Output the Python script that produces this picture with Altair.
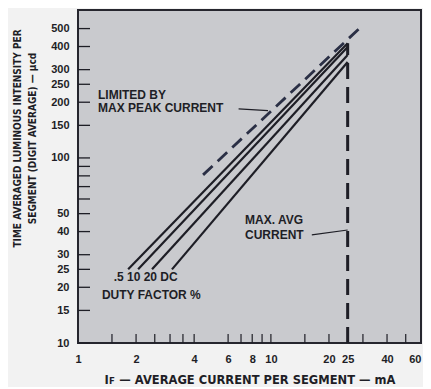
import altair as alt
import pandas as pd

# ---- data ----
duty = ["5", "10", "20", "DC"]
x_start = [1.82, 2.05, 2.42, 3.07]
y_start = [25, 25, 25, 25]
x_end = [25, 25, 25, 25]
y_end = [417, 398, 360, 330]

peak_x = [4.45, 29.0]
peak_y = [81, 505]

avg_x = [25, 25]
avg_y = [10, 417]

y_labels = [10, 15, 20, 25, 30, 40, 50, 100, 150, 200, 250, 300, 400, 500]
y_minor = [60, 70, 80, 90]
x_labels = [1, 2, 4, 6, 8, 10, 20, 25, 40, 60]
x_minor = [1.5, 2, 2.5, 3, 3.5, 4, 6, 7, 8, 9, 10, 15, 20, 25, 30, 40, 50]

notes_text = ["LIMITED BY", "MAX PEAK CURRENT", "MAX. AVG", "CURRENT",
              ".5 10 20 DC", "DUTY FACTOR %"]
notes_x = [1.27, 1.27, 7.34, 7.34, 1.53, 1.33]
notes_y = [219, 186, 46.3, 38.4, 22.7, 18.2]

leader_x = [6.8, 16.3]
leader_x2 = [9.66, 25]
leader_y = [184, 38.4]
leader_y2 = [180, 40.8]

# ---- tables ----
rows = []
for d, xs0, ys0, xe, ye in zip(duty, x_start, y_start, x_end, y_end):
    rows.append({"duty": d, "x": xs0, "y": ys0})
    rows.append({"duty": d, "x": xe, "y": ye})
curves = pd.DataFrame(rows)
peak = pd.DataFrame({"x": peak_x, "y": peak_y})
avg = pd.DataFrame({"x": avg_x, "y": avg_y})
notes = pd.DataFrame({"x": notes_x, "y": notes_y, "t": notes_text})
leaders = pd.DataFrame({"x": leader_x, "x2": leader_x2, "y": leader_y, "y2": leader_y2})
yt = pd.DataFrame({"y": y_labels + y_minor})
xt = pd.DataFrame({"x": x_minor})

W, H = 343, 333
INK = "#1e1e26"

xscale = alt.Scale(type="log", domain=[1, 60])
yscale = alt.Scale(type="log", domain=[10, 630])

x_axis = alt.Axis(values=x_labels, format="d", grid=False, ticks=False, tickSize=0,
                  domain=False, labelPadding=10, labelFont="Liberation Sans",
                  labelFontWeight="bold", labelFontSize=11, labelColor=INK,
                  labelFlush=False,
                  labelAlign={"condition": {"test": "datum.value >= 60", "value": "right"},
                              "value": "center"},
                  titleFont="DejaVu Sans", titleFontWeight="bold",
                  titleFontSize=11.5, titleColor=INK, titleBaseline="middle", titleY=37)
y_axis = alt.Axis(values=y_labels, format="d", grid=False, ticks=False, tickSize=0,
                  domain=False, labelPadding=9, labelFont="Liberation Sans",
                  labelFontWeight="bold", labelFontSize=11, labelColor=INK,
                  labelFlush=False, titleFont="DejaVu Sans Condensed", titleFontWeight="bold",
                  titleFontSize=10, titleColor=INK, titleBaseline="middle",
                  titleAlign="center", titleAngle=270, titleX=-61, titleY=128,
                  titleLineHeight=15)

x_title = "I\ua730 \u2014 AVERAGE CURRENT PER SEGMENT \u2014 mA"
y_title = ["TIME AVERAGED LUMINOUS INTENSITY PER", "SEGMENT (DIGIT AVERAGE) \u2014 \u03bccd"]


def X(field="x"):
    return alt.X(f"{field}:Q", scale=xscale, axis=x_axis, title=x_title)


def Y(field="y"):
    return alt.Y(f"{field}:Q", scale=yscale, axis=y_axis, title=y_title)


lines = alt.Chart(curves).mark_line(color=INK, strokeWidth=2.2).encode(
    x=X(), y=Y(), detail="duty:N")

peak_line = alt.Chart(peak).mark_line(color="#2a2f45", strokeWidth=2.8,
                                      strokeDash=[13, 7]).encode(x=X(), y=Y())

avg_line = alt.Chart(avg).mark_line(color=INK, strokeWidth=3,
                                    strokeDash=[16, 8]).encode(x=X(), y=Y())

lead = alt.Chart(leaders).mark_rule(color=INK, strokeWidth=1.2).encode(
    x=X(), x2="x2:Q", y=Y(), y2="y2:Q")

text = alt.Chart(notes).mark_text(align="left", baseline="middle", font="Liberation Sans",
                                  fontWeight="bold", fontSize=12, color=INK).encode(
    x=X(), y=Y(), text="t:N")

yticks = alt.Chart(yt).mark_rule(color=INK, strokeWidth=1.3).encode(
    y=Y(), x=alt.value(0), x2=alt.value(12))

xticks = alt.Chart(xt).mark_rule(color=INK, strokeWidth=1.2).encode(
    x=X(), y=alt.value(H), y2=alt.value(H - 9))

chart = alt.layer(yticks, xticks, lines, peak_line, avg_line, lead, text).properties(
    width=W, height=H,
    autosize=alt.AutoSizeParams(type="none"),
    padding={"left": 70, "top": 2, "right": 2, "bottom": 44},
    background="#f2f2f2",
).configure_view(fill="#c9cace", stroke="#26262e", strokeWidth=2)

chart.save("out.html", embed_options={"renderer": "svg", "actions": False})
